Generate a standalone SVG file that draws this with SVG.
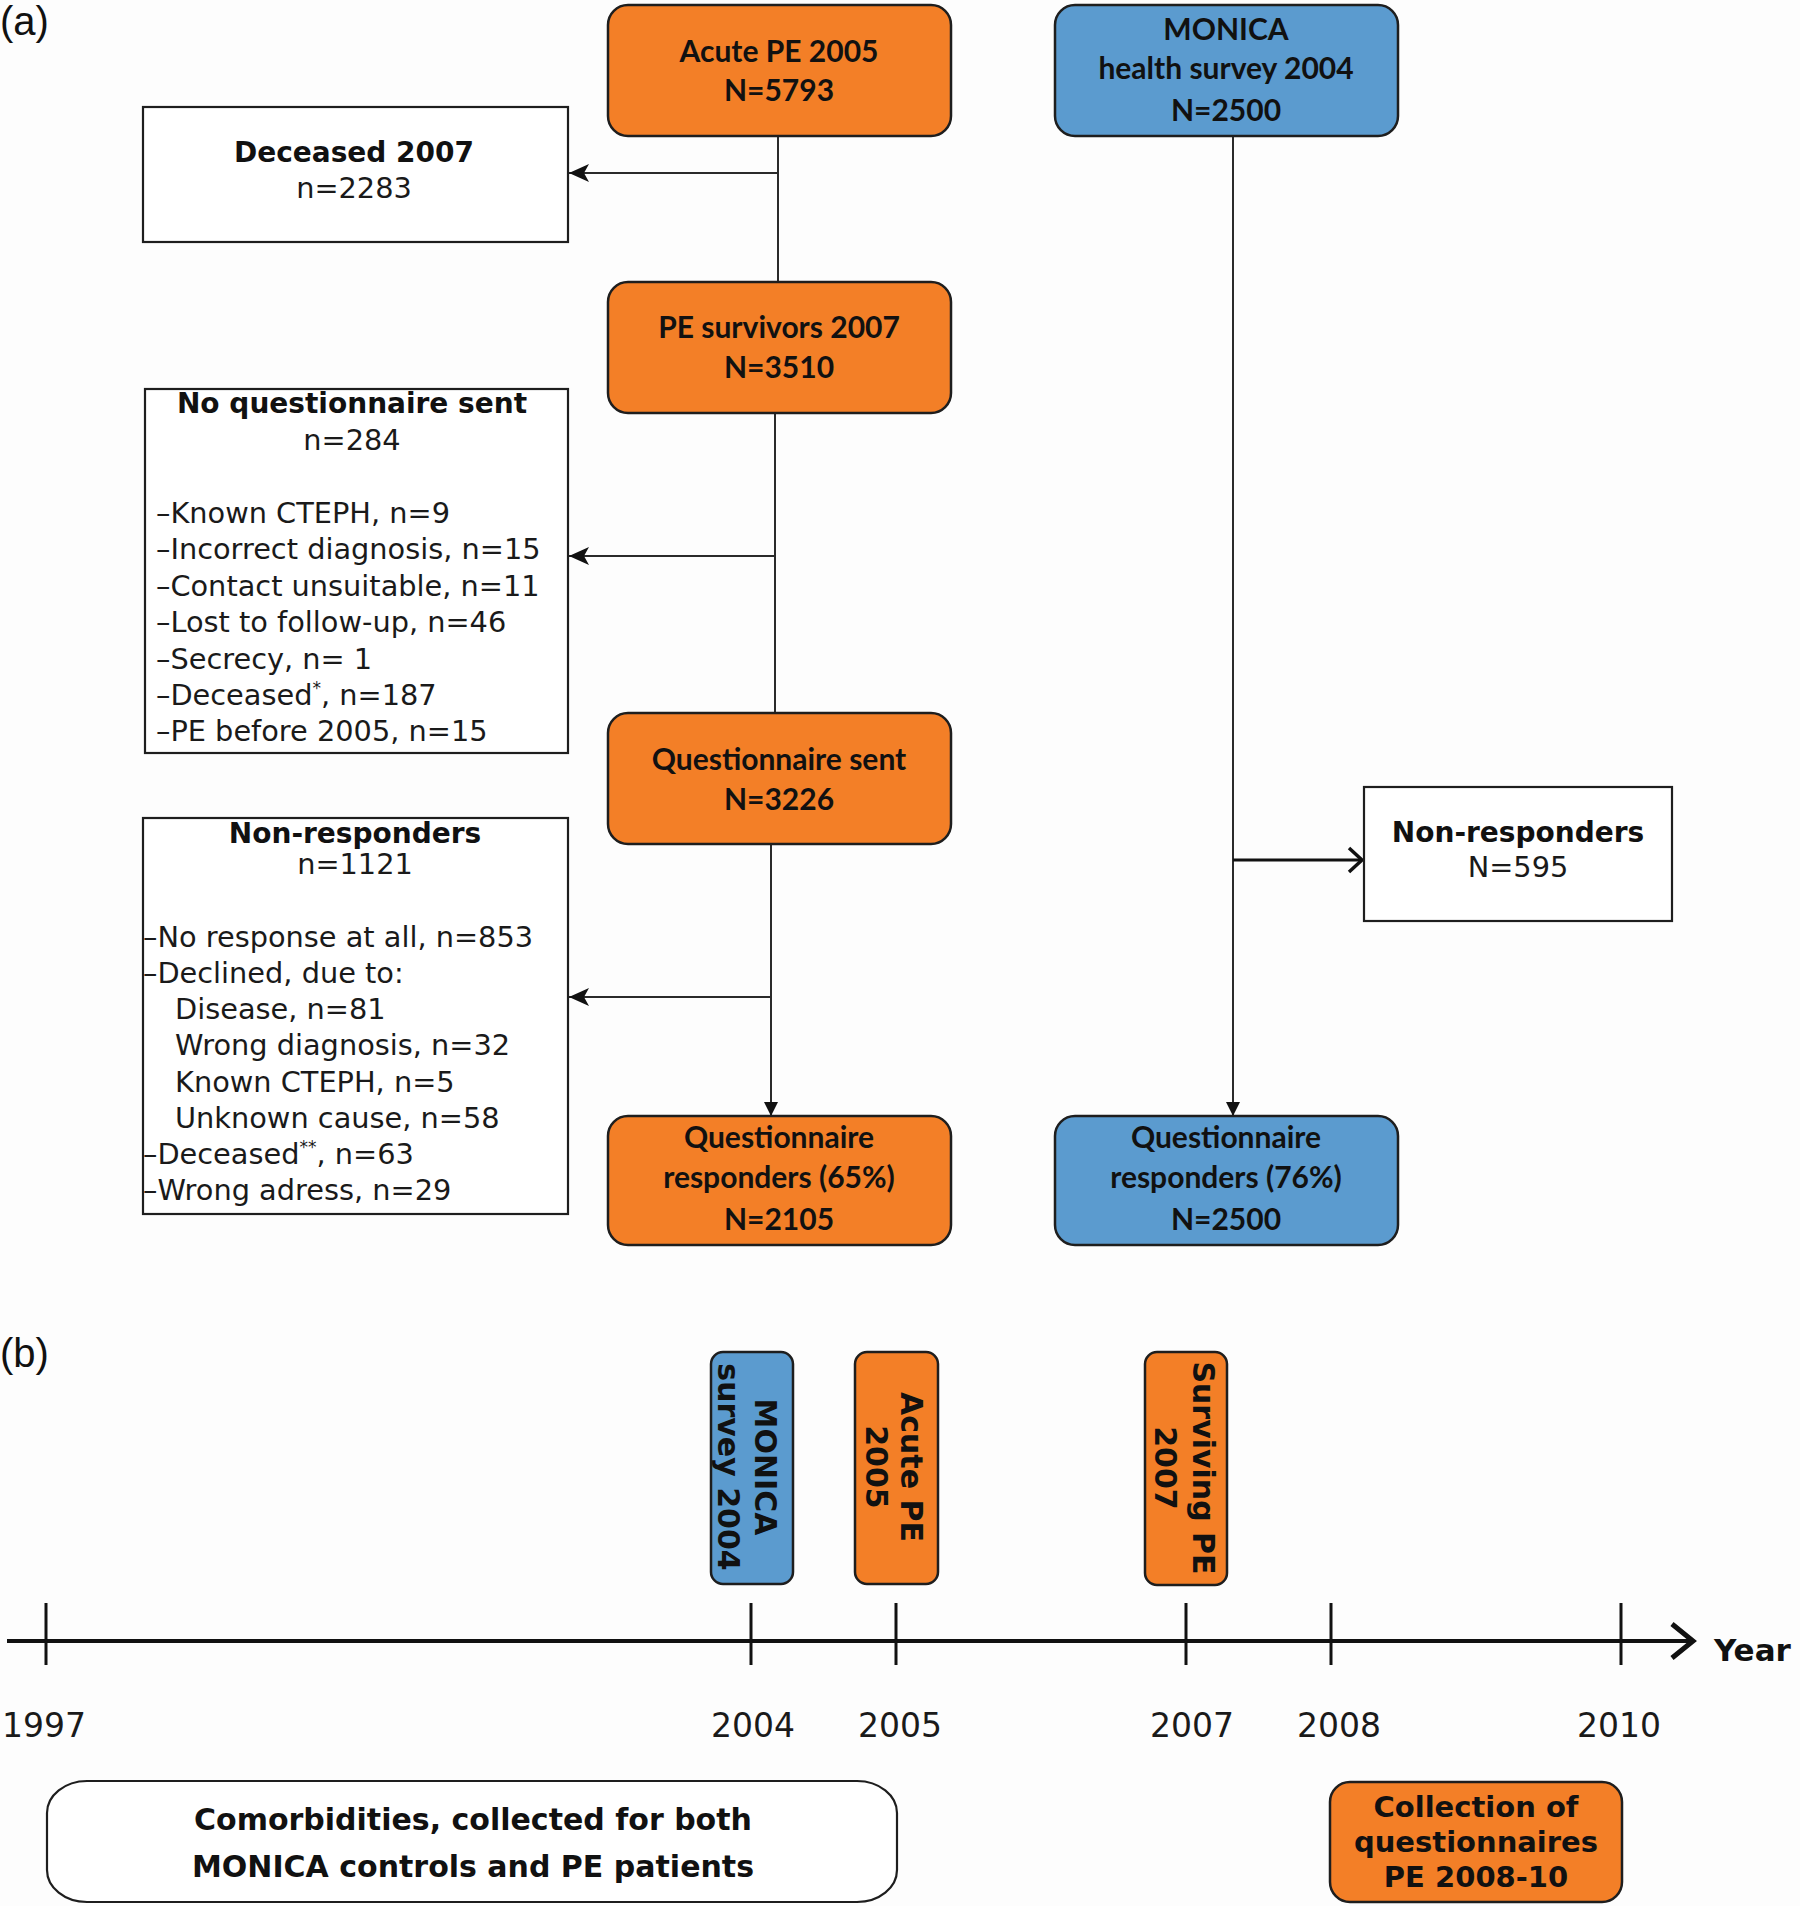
<svg xmlns="http://www.w3.org/2000/svg" width="1800" height="1906" viewBox="0 0 1800 1906">
<style>
.bg{fill:#fdfdfd}
.or{fill:#F37F27;stroke:#1e1e1e;stroke-width:2.5}
.bl{fill:#5B9BCF;stroke:#1e1e1e;stroke-width:2.5}
.wb{fill:#ffffff;stroke:#1e1e1e;stroke-width:2.2}
.cal{font-family:Lato,"Open Sans","DejaVu Sans",sans-serif;font-weight:bold;font-size:30px;fill:#111;text-anchor:middle}
.vb{font-family:"DejaVu Sans",Verdana,sans-serif;font-weight:bold;font-size:28px;fill:#111;text-anchor:middle}
.vr{font-family:"DejaVu Sans",Verdana,sans-serif;font-size:28.8px;fill:#1a1a1a}
.vrm{font-family:"DejaVu Sans",Verdana,sans-serif;font-size:28.8px;fill:#1a1a1a;text-anchor:middle}
.yr{font-family:"DejaVu Sans",Verdana,sans-serif;font-size:33px;fill:#1a1a1a;text-anchor:middle}
.rot{font-family:"DejaVu Sans",Verdana,sans-serif;font-weight:bold;font-size:30px;fill:#111;text-anchor:middle}
.lab{font-family:"Liberation Sans",Arial,sans-serif;font-size:40px;fill:#111}
.ln{stroke:#2a2a2a;stroke-width:2;fill:none}
.ax{stroke:#111;stroke-width:4;fill:none}
.big{font-size:30px}
.mid{font-size:29px}
.sup{font-size:17px}
</style>
<defs>
<marker id="stealth" viewBox="0 0 20 20" refX="20" refY="10" markerWidth="20" markerHeight="20" orient="auto" markerUnits="userSpaceOnUse">
<path d="M0,1 L20,10 L0,19 L5,10 Z" fill="#111"/>
</marker>
<marker id="tri" viewBox="0 0 14 14" refX="14" refY="7" markerWidth="14" markerHeight="14" orient="auto" markerUnits="userSpaceOnUse">
<path d="M0,0 L14,7 L0,14 Z" fill="#111"/>
</marker>
</defs>
<rect class="bg" x="0" y="0" width="1800" height="1906"/>

<text class="lab" x="0" y="35">(a)</text>
<text class="lab" x="0" y="1367">(b)</text>

<g id="connectors">
<line class="ln" x1="778" y1="136" x2="778" y2="282"/>
<line class="ln" x1="778" y1="173" x2="569" y2="173" marker-end="url(#stealth)"/>
<line class="ln" x1="775" y1="413" x2="775" y2="713"/>
<line class="ln" x1="775" y1="556" x2="569" y2="556" marker-end="url(#stealth)"/>
<line class="ln" x1="771" y1="844" x2="771" y2="1116" marker-end="url(#tri)"/>
<line class="ln" x1="771" y1="997" x2="569" y2="997" marker-end="url(#stealth)"/>
<line class="ln" x1="1233" y1="136" x2="1233" y2="1116" marker-end="url(#tri)"/>
<line x1="1233" y1="860" x2="1360" y2="860" stroke="#111" stroke-width="3"/>
<polyline points="1349,848 1362,860 1349,872" stroke="#111" stroke-width="3.5" fill="none"/>
</g>

<g id="acute">
<rect class="or" x="608" y="5" width="343" height="131" rx="20"/>
<text class="cal" x="779" y="62">Acute PE 2005</text>
<text class="cal" x="779" y="101">N=5793</text>
</g>
<g id="monica">
<rect class="bl" x="1055" y="5" width="343" height="131" rx="20"/>
<text class="cal" x="1226" y="40">MONICA</text>
<text class="cal" x="1226" y="79">health survey 2004</text>
<text class="cal" x="1226" y="121">N=2500</text>
</g>
<g id="deceased">
<rect class="wb" x="143" y="107" width="425" height="135"/>
<text class="vb" x="354" y="162">Deceased 2007</text>
<text class="vrm" x="354" y="198">n=2283</text>
</g>
<g id="survivors">
<rect class="or" x="608" y="282" width="343" height="131" rx="20"/>
<text class="cal" x="779" y="338">PE survivors 2007</text>
<text class="cal" x="779" y="378">N=3510</text>
</g>
<g id="noq">
<rect class="wb" x="145" y="389" width="423" height="364"/>
<text class="vb" x="352" y="413">No questionnaire sent</text>
<text class="vrm" x="352" y="450">n=284</text>
<text class="vr" x="156" y="523">–Known CTEPH, n=9</text>
<text class="vr" x="156" y="559">–Incorrect diagnosis, n=15</text>
<text class="vr" x="156" y="596">–Contact unsuitable, n=11</text>
<text class="vr" x="156" y="632">–Lost to follow-up, n=46</text>
<text class="vr" x="156" y="669">–Secrecy, n= 1</text>
<text class="vr" x="156" y="705">–Deceased<tspan class="sup" dy="-11">*</tspan><tspan dy="11">, n=187</tspan></text>
<text class="vr" x="156" y="741">–PE before 2005, n=15</text>
</g>
<g id="qsent">
<rect class="or" x="608" y="713" width="343" height="131" rx="20"/>
<text class="cal" x="779" y="770">Questionnaire sent</text>
<text class="cal" x="779" y="810">N=3226</text>
</g>
<g id="nonresp">
<rect class="wb" x="143" y="818" width="425" height="396"/>
<text class="vb" x="355" y="843">Non-responders</text>
<text class="vrm" x="355" y="874">n=1121</text>
<text class="vr" x="143" y="947">–No response at all, n=853</text>
<text class="vr" x="143" y="983">–Declined, due to:</text>
<text class="vr" x="175" y="1019">Disease, n=81</text>
<text class="vr" x="175" y="1055">Wrong diagnosis, n=32</text>
<text class="vr" x="175" y="1092">Known CTEPH, n=5</text>
<text class="vr" x="175" y="1128">Unknown cause, n=58</text>
<text class="vr" x="143" y="1164">–Deceased<tspan class="sup" dy="-11">**</tspan><tspan dy="11">, n=63</tspan></text>
<text class="vr" x="143" y="1200">–Wrong adress, n=29</text>
</g>
<g id="nonresp2">
<rect class="wb" x="1364" y="787" width="308" height="134"/>
<text class="vb" x="1518" y="842">Non-responders</text>
<text class="vrm" x="1518" y="877">N=595</text>
</g>
<g id="resp65">
<rect class="or" x="608" y="1116" width="343" height="129" rx="20"/>
<text class="cal" x="779" y="1148">Questionnaire</text>
<text class="cal" x="779" y="1188">responders (65%)</text>
<text class="cal" x="779" y="1230">N=2105</text>
</g>
<g id="resp76">
<rect class="bl" x="1055" y="1116" width="343" height="129" rx="20"/>
<text class="cal" x="1226" y="1148">Questionnaire</text>
<text class="cal" x="1226" y="1188">responders (76%)</text>
<text class="cal" x="1226" y="1230">N=2500</text>
</g>

<g id="tl-monica">
<rect class="bl" x="711" y="1352" width="82" height="232" rx="12"/>
<g transform="translate(752,1467) rotate(90)">
<text class="rot" x="0" y="-3">MONICA</text>
<text class="rot" x="0" y="34">survey 2004</text>
</g>
</g>
<g id="tl-acute">
<rect class="or" x="855" y="1352" width="83" height="232" rx="12"/>
<g transform="translate(896,1467) rotate(90)">
<text class="rot" x="0" y="-5">Acute PE</text>
<text class="rot" x="0" y="30">2005</text>
</g>
</g>
<g id="tl-surviving">
<rect class="or" x="1145" y="1352" width="82" height="233" rx="12"/>
<g transform="translate(1186,1468) rotate(90)">
<text class="rot" x="0" y="-7">Surviving PE</text>
<text class="rot" x="0" y="31">2007</text>
</g>
</g>

<g id="timeline">
<line class="ax" x1="7" y1="1641" x2="1690" y2="1641"/>
<polyline points="1672,1624 1693,1641 1672,1658" stroke="#111" stroke-width="5" fill="none"/>
<line x1="46" y1="1603" x2="46" y2="1665" stroke="#111" stroke-width="3"/>
<line x1="751" y1="1603" x2="751" y2="1665" stroke="#111" stroke-width="3"/>
<line x1="896" y1="1603" x2="896" y2="1665" stroke="#111" stroke-width="3"/>
<line x1="1186" y1="1603" x2="1186" y2="1665" stroke="#111" stroke-width="3"/>
<line x1="1331" y1="1603" x2="1331" y2="1665" stroke="#111" stroke-width="3"/>
<line x1="1621" y1="1603" x2="1621" y2="1665" stroke="#111" stroke-width="3"/>
<text class="yr" x="44" y="1737">1997</text>
<text class="yr" x="753" y="1737">2004</text>
<text class="yr" x="900" y="1737">2005</text>
<text class="yr" x="1192" y="1737">2007</text>
<text class="yr" x="1339" y="1737">2008</text>
<text class="yr" x="1619" y="1737">2010</text>
<text x="1714" y="1661" font-family="DejaVu Sans, Verdana, sans-serif" font-weight="bold" font-size="31" fill="#111">Year</text>
</g>

<g id="comorb">
<rect x="47" y="1781" width="850" height="121" rx="40" ry="32" fill="#ffffff" stroke="#1e1e1e" stroke-width="2.2"/>
<text class="vb big" x="473" y="1830">Comorbidities, collected for both</text>
<text class="vb big" x="473" y="1877">MONICA controls and PE patients</text>
</g>
<g id="collection">
<rect class="or" x="1330" y="1782" width="292" height="120" rx="20"/>
<text class="vb mid" x="1476" y="1817">Collection of</text>
<text class="vb mid" x="1476" y="1852">questionnaires</text>
<text class="vb mid" x="1476" y="1887">PE 2008-10</text>
</g>
</svg>
